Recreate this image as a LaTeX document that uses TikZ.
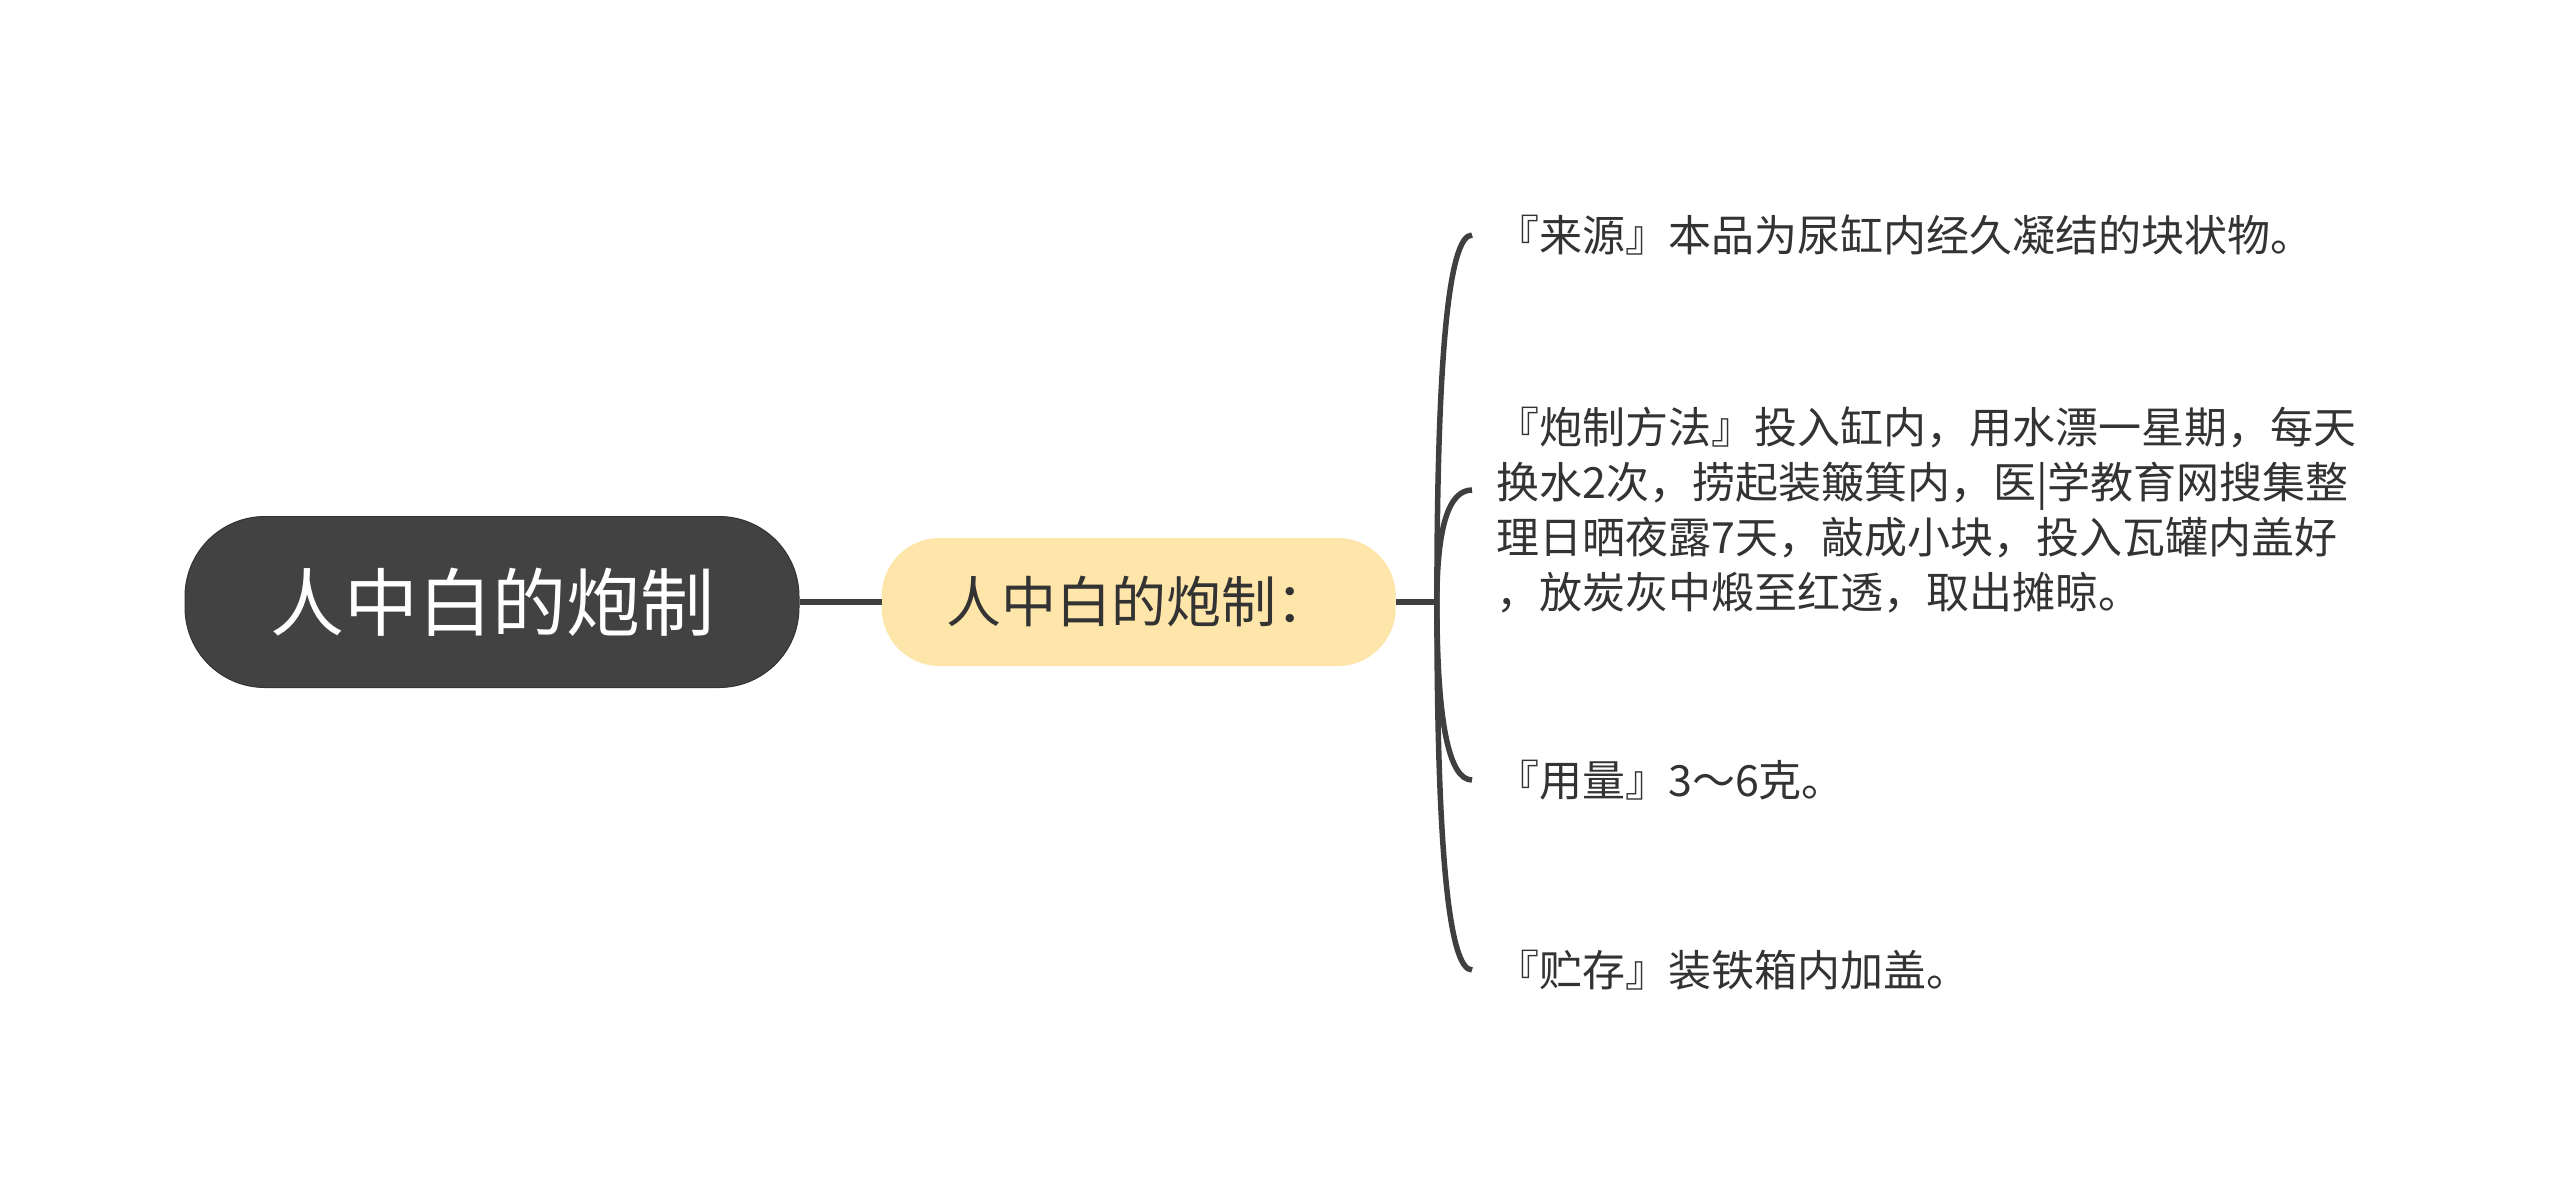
\documentclass[tikz,border=0pt]{standalone}
\usepackage{fontspec}
\setmainfont{Noto Sans CJK SC}
\usetikzlibrary{positioning,calc}
\definecolor{rootgray}{HTML}{424242}
\definecolor{linegray}{HTML}{3F3F3F}
\definecolor{subyellow}{HTML}{FEE5AA}
\definecolor{textgray}{HTML}{333333}

\begin{document}
\begin{tikzpicture}[x=1pt,y=-1pt,
    root node/.style={rounded corners=80pt,fill=rootgray,draw=black!80,line width=1pt,text=white,minimum width=614pt,minimum height=171pt,font=\fontsize{74}{88}\selectfont},
    sub node/.style={rounded corners=58pt,fill=subyellow,text=textgray,minimum width=514pt,minimum height=128pt,font=\fontsize{55}{66}\selectfont},
    leaf node/.style={anchor=west,inner xsep=24pt,inner ysep=0pt,text=textgray,align=left,font=\fontsize{43}{55}\selectfont},
    branch/.style={draw=linegray,line width=5.5pt}]
    \useasboundingbox (0,0) rectangle (2560,1203);

    \node[root node] (root) at (492,602) {人中白的炮制};
    \node[sub node] (sub) [right=82pt of root] {人中白的炮制：};
    \coordinate[right=41pt of sub] (fork);

    \node[leaf node] (source) at (1472,235) {『来源』本品为尿缸内经久凝结的块状物。};
    \node[leaf node] (method) at (1472,510) {『炮制方法』投入缸内，用水漂一星期，每天\\换水2次，捞起装簸箕内，医|学教育网搜集整\\理日晒夜露7天，敲成小块，投入瓦罐内盖好\\，放炭灰中煅至红透，取出摊晾。};
    \node[leaf node] (dose) at (1472,780) {『用量』3～6克。};
    \node[leaf node] (store) at (1472,970) {『贮存』装铁箱内加盖。};
    \coordinate (method end) at ([yshift=20pt]method.west);

    \path[branch]
        (root) edge (sub)
        (sub.east) edge (fork);

    % brace curves
    \foreach \leafend in {source.west,method end,dose.west,store.west}
        \draw[branch] (fork) .. controls ($(fork)!0.667!(fork |- \leafend)$) and ($(\leafend)!0.667!(fork |- \leafend)$) .. (\leafend);

\end{tikzpicture}
\end{document}
